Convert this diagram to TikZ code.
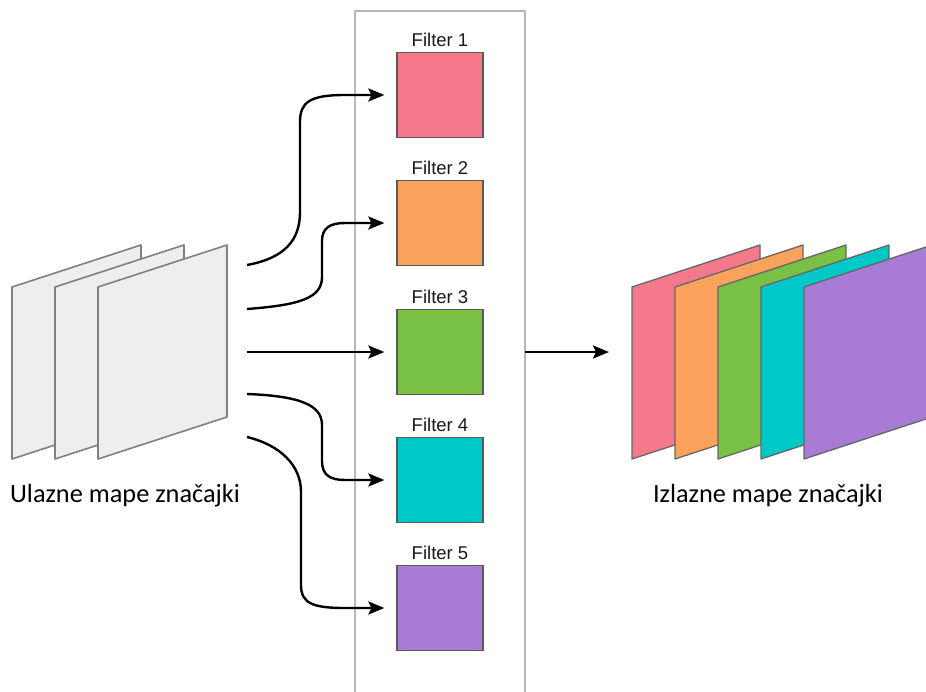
\documentclass[tikz,border=0pt]{standalone}
\usepackage{fontspec}
\setmainfont{Carlito}
\newfontfamily\helv{Liberation Sans}
\usetikzlibrary{arrows.meta}

\definecolor{fpink}{HTML}{F5788B}
\definecolor{forange}{HTML}{FBA25C}
\definecolor{fgreen}{HTML}{78C144}
\definecolor{fcyan}{HTML}{00C8C8}
\definecolor{fpurple}{HTML}{A77BD6}
\definecolor{sheetgray}{HTML}{EEEEF0}

\tikzset{
  sheet/.style={draw=black!50, line width=1.6pt, line join=round},
  filterbox/.style={draw=black!65, line width=1.3pt, minimum width=86pt,
                    minimum height=85pt, inner sep=0pt},
  filterlabel/.style={font=\helv\fontsize{18.5}{18.5}\selectfont, text=black!90, anchor=base},
  conn/.style={line width=2.4pt, -{Stealth[length=16pt, width=13pt, inset=3pt]}}
}

\begin{document}
\begin{tikzpicture}[x=1pt, y=-1pt]
   %
   \useasboundingbox (0,0) rectangle (926,691);
   %
   % panel with the filters
   \draw[black!28, line width=2pt] (355,720) -- (355,11) -- (525,11) -- (525,720);
   %
   % input maps
   \foreach \x in {12,55,98}
     \draw[sheet, fill=sheetgray] (\x,287) -- (\x+129,245) -- (\x+129,417) -- (\x,459) -- cycle;
   %
   \node[anchor=base, font=\fontsize{26.3}{26.3}\selectfont] (inlabel) at (125,502)
        {Ulazne mape značajki};
   %
   % filters
   \foreach \i/\c/\y in {1/fpink/95, 2/forange/223, 3/fgreen/352, 4/fcyan/480, 5/fpurple/608} {
     \node[filterbox, fill=\c] (f\i) at (440,\y) {};
     \node[filterlabel] (fl\i) at (440,\y-49) {Filter \i};
   }
   %
   % output maps
   \foreach \x/\c in {632/fpink, 675/forange, 718/fgreen, 761/fcyan, 804/fpurple}
     \draw[sheet, draw=black!60, line width=1.3pt, fill=\c]
          (\x,287) -- (\x+128,245) -- (\x+128,417) -- (\x,459) -- cycle;
   %
   \node[anchor=base, font=\fontsize{26.3}{26.3}\selectfont] (outlabel) at (768,502)
        {Izlazne mape značajki};
   %
   % connectors
   \coordinate (o1) at (247,265);
   \coordinate (o2) at (247,309);
   \coordinate (o3) at (247,352);
   \coordinate (o4) at (247,394);
   \coordinate (o5) at (247,437);
   \coordinate (pe) at (525,352);
   \coordinate (pout) at (609,352);
   %
   \draw[conn] (o1) .. controls (285,258) and (300,240) .. (300,212) -- (300,122)
        .. controls (300,102) and (310,95) .. (345,95) -- ([xshift=-12pt]f1.west);
   \draw[conn] (o2) .. controls (300,305) and (322,298) .. (322,277) -- (322,241)
        .. controls (322,228) and (330,223) .. (345,223) -- ([xshift=-12pt]f2.west);
   \draw[conn] (o3) -- ([xshift=-12pt]f3.west);
   \draw[conn] (o4) .. controls (300,396) and (322,405) .. (322,425) -- (322,461)
        .. controls (322,475) and (330,480) .. (345,480) -- ([xshift=-12pt]f4.west);
   \draw[conn] (o5) .. controls (280,445) and (301,465) .. (301,492) -- (301,585)
        .. controls (301,603) and (312,608) .. (345,608) -- ([xshift=-12pt]f5.west);
   %
   \draw[conn] (pe) -- (pout);
   %
\end{tikzpicture}
\end{document}
